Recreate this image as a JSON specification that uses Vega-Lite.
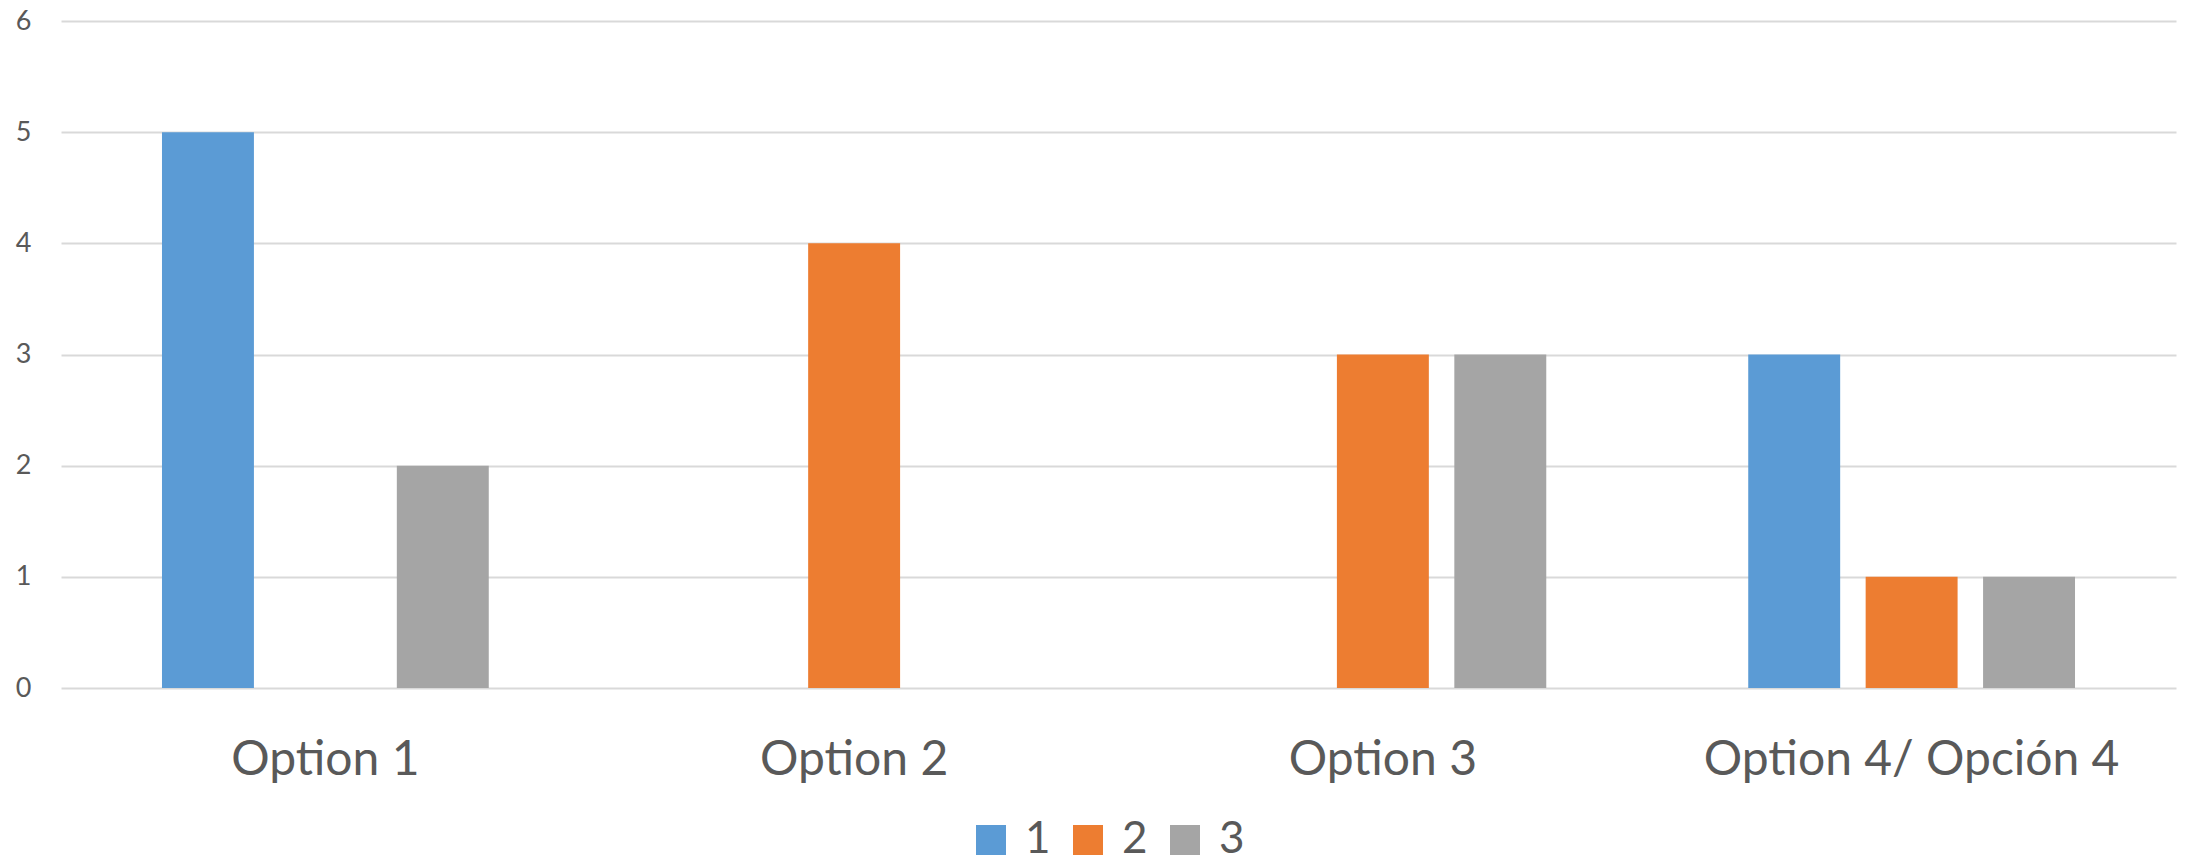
{
  "$schema": "https://vega.github.io/schema/vega-lite/v6.json",
  "autosize": "none",
  "padding": {"left": 61, "top": 21, "right": 14, "bottom": 177},
  "width": 2115,
  "height": 667,
  "background": "white",
  "data": {
    "values": [
      {"option": "Option 1", "series": "1", "value": 5},
      {"option": "Option 1", "series": "2", "value": 0},
      {"option": "Option 1", "series": "3", "value": 2},
      {"option": "Option 2", "series": "1", "value": 0},
      {"option": "Option 2", "series": "2", "value": 4},
      {"option": "Option 2", "series": "3", "value": 0},
      {"option": "Option 3", "series": "1", "value": 0},
      {"option": "Option 3", "series": "2", "value": 3},
      {"option": "Option 3", "series": "3", "value": 3},
      {"option": "Option 4/ Opción 4", "series": "1", "value": 3},
      {"option": "Option 4/ Opción 4", "series": "2", "value": 1},
      {"option": "Option 4/ Opción 4", "series": "3", "value": 1}
    ]
  },
  "mark": {"type": "bar"},
  "encoding": {
    "x": {
      "field": "option",
      "type": "nominal",
      "sort": null,
      "scale": {"paddingInner": 0, "paddingOuter": 0},
      "axis": {
        "title": null,
        "labelAngle": 0,
        "labelLimit": 0,
        "ticks": false,
        "tickSize": 0,
        "domain": false,
        "labelFont": "Lato",
        "labelFontSize": 48,
        "labelColor": "#595959",
        "labelBaseline": "alphabetic",
        "labelPadding": 86
      }
    },
    "xOffset": {
      "field": "series",
      "type": "nominal",
      "scale": {"paddingInner": 0.217, "paddingOuter": 0.86}
    },
    "y": {
      "field": "value",
      "type": "quantitative",
      "scale": {"domain": [0, 6]},
      "axis": {
        "title": null,
        "values": [0, 1, 2, 3, 4, 5, 6],
        "ticks": false,
        "tickSize": 0,
        "domain": false,
        "grid": true,
        "gridColor": "#D9D9D9",
        "gridWidth": 2,
        "labelFont": "Lato",
        "labelFontSize": 27,
        "labelColor": "#595959",
        "labelPadding": 30
      }
    },
    "color": {
      "field": "series",
      "type": "nominal",
      "scale": {"domain": ["1", "2", "3"], "range": ["#5B9BD5", "#ED7D31", "#A5A5A5"]},
      "legend": {
        "title": null,
        "orient": "none",
        "direction": "horizontal",
        "legendX": 908,
        "legendY": 797,
        "symbolType": "square",
        "symbolSize": 900,
        "symbolStrokeWidth": 0,
        "symbolOpacity": 1,
        "labelFont": "Lato",
        "labelFontSize": 44,
        "labelColor": "#595959",
        "labelOffset": 12,
        "columnPadding": 15
      }
    }
  },
  "config": {"view": {"stroke": null}}
}
